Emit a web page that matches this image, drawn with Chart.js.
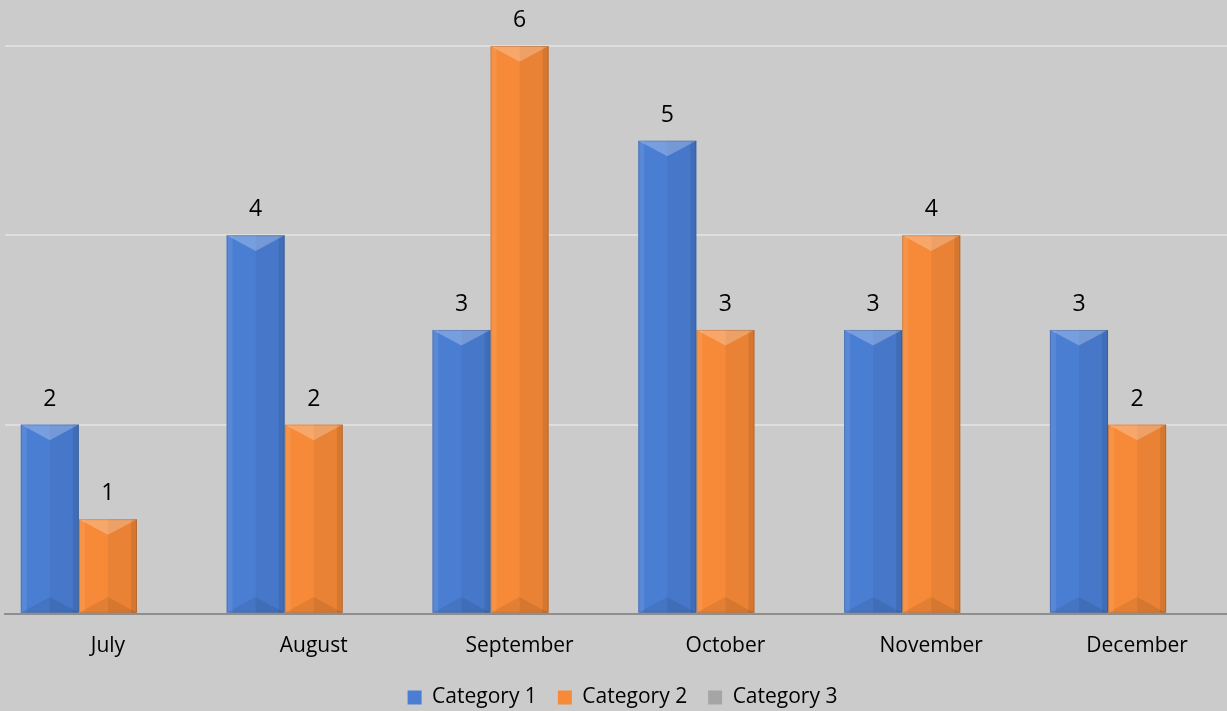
<!DOCTYPE html>
<html>
<head>
<meta charset="utf-8">
<script src="https://cdn.jsdelivr.net/npm/chart.js@4.4.1/dist/chart.umd.min.js"></script>
<style>
  html, body { margin: 0; padding: 0; background: #cbcbcb; overflow: hidden; }
  #wrap { width: 1240px; height: 711px; }
</style>
</head>
<body>
<div id="wrap"><canvas id="monthChart"></canvas></div>
<script>
const months = ['July', 'August', 'September', 'October', 'November', 'December'];
const category1 = [2, 4, 3, 5, 3, 3];
const category2 = [1, 2, 6, 3, 4, 2];
const category3 = [0, 0, 0, 0, 0, 0];
const seriesNames = ['Category 1', 'Category 2', 'Category 3'];

const FONT = "'Open Sans', sans-serif";

// bevelled look like the office chart
const bevelBars = {
  id: 'bevelBars',
  afterDatasetsDraw(chart) {
    const ctx = chart.ctx;
    chart.data.datasets.forEach((ds, i) => {
      chart.getDatasetMeta(i).data.forEach((bar) => {
        const h = bar.base - bar.y;
        if (h <= 0) return;
        const l = bar.x - bar.width / 2, r = bar.x + bar.width / 2;
        const t = bar.y, b = bar.base;
        const d = Math.min(bar.width * 0.45, h / 2);
        ctx.save();
        ctx.fillStyle = 'rgba(0,0,0,0.05)';
        ctx.fillRect(bar.x, t, r - bar.x, h);
        ctx.fillStyle = 'rgba(255,255,255,0.08)';
        ctx.fillRect(l, t, 6, h);
        ctx.fillStyle = 'rgba(0,0,0,0.08)';
        ctx.fillRect(r - 6, t, 6, h);
        ctx.fillStyle = 'rgba(255,255,255,0.25)';
        ctx.beginPath();
        ctx.moveTo(l, t); ctx.lineTo(r, t); ctx.lineTo(bar.x, t + d * 0.6); ctx.closePath();
        ctx.fill();
        ctx.fillStyle = 'rgba(0,0,0,0.08)';
        ctx.beginPath();
        ctx.moveTo(l, b); ctx.lineTo(r, b); ctx.lineTo(bar.x, b - d * 0.6); ctx.closePath();
        ctx.fill();
        ctx.strokeStyle = 'rgba(0,0,0,0.15)';
        ctx.lineWidth = 1;
        ctx.strokeRect(l + 0.5, t + 0.5, bar.width - 1, h - 1);
        ctx.restore();
      });
    });
  }
};

const valueLabels = {
  id: 'valueLabels',
  afterDatasetsDraw(chart) {
    const ctx = chart.ctx;
    ctx.save();
    ctx.font = '23px ' + FONT;
    ctx.fillStyle = '#000';
    ctx.textAlign = 'center';
    ctx.textBaseline = 'alphabetic';
    chart.data.datasets.forEach((ds, i) => {
      chart.getDatasetMeta(i).data.forEach((bar, j) => {
        if (!ds.data[j]) return;
        ctx.fillText(ds.data[j], bar.x, bar.y - 19);
      });
    });
    ctx.restore();
  }
};

new Chart(document.getElementById('monthChart'), {
  type: 'bar',
  data: {
    labels: months,
    datasets: [
      { label: seriesNames[0], data: category1, backgroundColor: '#4a7ed3' },
      { label: seriesNames[1], data: category2, backgroundColor: '#f68a38' },
      { label: seriesNames[2], data: category3, backgroundColor: '#a5a5a5' }
    ]
  },
  options: {
    responsive: true,
    maintainAspectRatio: false,
    animation: false,
    layout: { padding: { top: 46, left: 5, right: 0, bottom: -7 } },
    datasets: { bar: { categoryPercentage: 0.847, barPercentage: 1 } },
    plugins: {
      legend: {
        position: 'bottom',
        labels: {
          boxWidth: 14, boxHeight: 14, padding: 21,
          color: '#000',
          font: { family: FONT, size: 21 }
        }
      },
      tooltip: { enabled: false }
    },
    scales: {
      x: {
        grid: { display: false },
        border: { color: '#8e8e8e', width: 2 },
        ticks: { color: '#000', padding: 12, font: { family: FONT, size: 21 } },
        afterFit(scale) { scale.height -= 5; }
      },
      y: {
        min: 0, max: 6,
        ticks: { display: false, stepSize: 2 },
        border: { display: false },
        grid: { color: '#dedede', lineWidth: 2, drawTicks: false }
      }
    }
  },
  plugins: [bevelBars, valueLabels]
});
</script>
</body>
</html>
